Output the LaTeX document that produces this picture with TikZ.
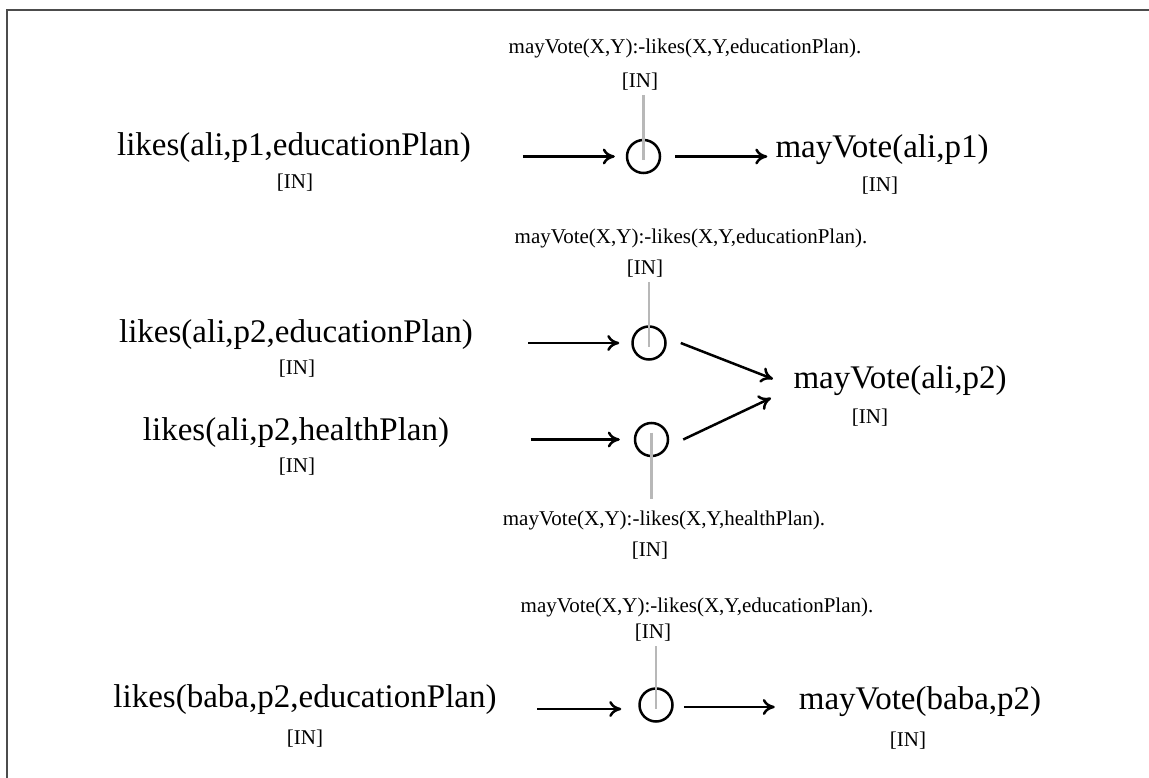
\documentclass[tikz,border=0pt]{standalone}
\usepackage{fontspec}
\setmainfont{Liberation Serif}
\usetikzlibrary{arrows.meta,calc}
\begin{document}
\begin{tikzpicture}[x=1pt,y=-1pt,
  big/.style={inner sep=0pt,font=\fontsize{33}{38}\selectfont},
  small/.style={inner sep=0pt,font=\fontsize{21}{24}\selectfont},
  gate/.style={circle,draw,line width=2.5pt,minimum size=33pt,inner sep=0pt},
  arr/.style={line width=2.5pt,-{To[length=12pt,width=16pt]}},
  rulelink/.style={line width=2.5pt,draw=black!28},
  framestyle/.style={line width=1.5pt,draw=black!70}]
\useasboundingbox (0,0) rectangle (1149,778);
% frame
\coordinate (ftl) at (7,10);
\coordinate (ftr) at (1149,10);
\coordinate (fbl) at (7,778);
\draw[framestyle] (ftr) -- (ftl) -- (fbl);

% ---------- row 1 ----------
\node[big] (l1) at (294,148) {likes(ali,p1,educationPlan)};
\node[small] (l1i) at (295,183) {[IN]};
\node[small] (r1) at (685,48) {mayVote(X,Y):-likes(X,Y,educationPlan).};
\node[small] (r1i) at (640,82) {[IN]};
\node[gate] (c1) at (643.5,156.5) {};
\node[big] (m1) at (882,150) {mayVote(ali,p1)};
\node[small] (m1i) at (880,186) {[IN]};
\coordinate (g1) at (643.5,95);
\draw[rulelink] (g1) -- ($(c1.center)+(0,4)$);
\draw[arr] ($(c1.west)+(-103,0)$) -- ($(c1.west)+(-11,0)$);
\draw[arr] ($(c1.east)+(14,0)$) -- ($(c1.east)+(106,0)$);

% ---------- row 2 ----------
\node[small] (r2) at (691,238) {mayVote(X,Y):-likes(X,Y,educationPlan).};
\node[small] (r2i) at (645,269) {[IN]};
\node[gate] (c2) at (649,343) {};
\node[big] (l2) at (296,335) {likes(ali,p2,educationPlan)};
\node[small] (l2i) at (297,369) {[IN]};
\node[big] (m2) at (900,381) {mayVote(ali,p2)};
\node[small] (m2i) at (870,418) {[IN]};
\node[gate] (c3) at (651.5,439.5) {};
\node[big] (l3) at (296,433) {likes(ali,p2,healthPlan)};
\node[small] (l3i) at (297,467) {[IN]};
\node[small] (r3) at (664,520) {mayVote(X,Y):-likes(X,Y,healthPlan).};
\node[small] (r3i) at (650,551) {[IN]};
\coordinate (g2) at (649,282);
\coordinate (g3) at (651.5,499);
\draw[rulelink] (g2) -- ($(c2.center)+(0,4)$);
\draw[rulelink] ($(c3.center)+(0,-7)$) -- (g3);
\draw[arr] ($(c2.west)+(-103,0)$) -- ($(c2.west)+(-12,0)$);
\draw[arr] ($(c3.west)+(-103,0)$) -- ($(c3.west)+(-14,0)$);
\coordinate (m2a) at (773,379);
\coordinate (m2b) at (771,398);
\draw[arr] ($(c2.east)+(14,0)$) -- (m2a);
\draw[arr] ($(c3.east)+(14,0)$) -- (m2b);

% ---------- row 3 ----------
\node[small] (r4) at (697,607) {mayVote(X,Y):-likes(X,Y,educationPlan).};
\node[small] (r4i) at (653,633) {[IN]};
\node[gate] (c4) at (656,705) {};
\node[big] (l4) at (305,700) {likes(baba,p2,educationPlan)};
\node[small] (l4i) at (305,739) {[IN]};
\node[big] (m4) at (920,702) {mayVote(baba,p2)};
\node[small] (m4i) at (908,741) {[IN]};
\coordinate (g4) at (656,646);
\draw[rulelink] (g4) -- ($(c4.center)+(0,4)$);
\draw[arr] ($(c4.west)+(-101,4)$) -- ($(c4.west)+(-17,4)$);
\draw[arr] ($(c4.east)+(10,2)$) -- ($(c4.east)+(101,2)$);
\end{tikzpicture}
\end{document}
